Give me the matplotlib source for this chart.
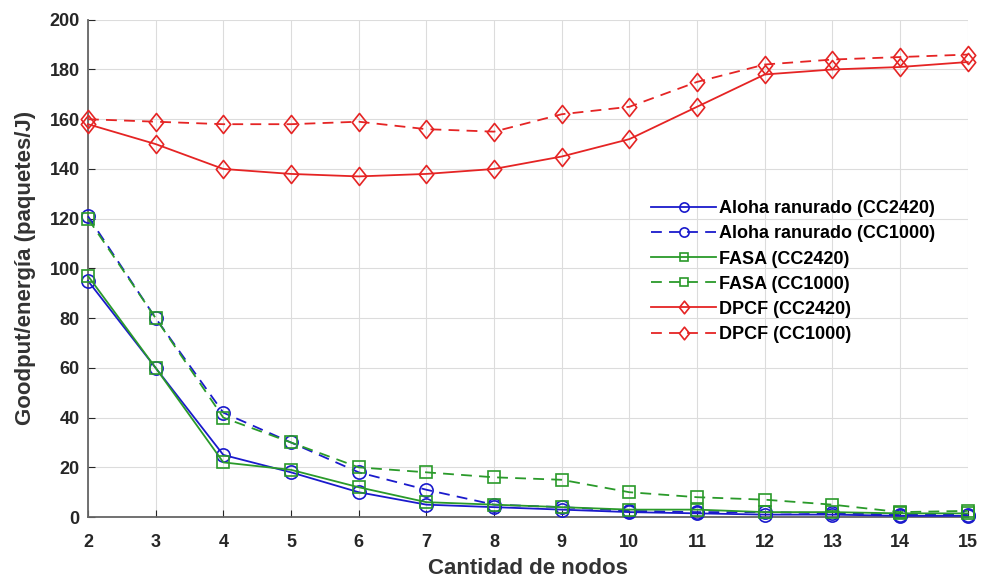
import matplotlib
matplotlib.use("Agg")
import matplotlib.pyplot as plt
from matplotlib.path import Path

nodos = [2, 3, 4, 5, 6, 7, 8, 9, 10, 11, 12, 13, 14, 15]

aloha_cc2420 = [95, 60, 25, 18, 10, 5, 4, 3, 2, 1.5, 1, 1, 0.5, 0.5]
aloha_cc1000 = [121, 80, 42, 30, 18, 11, 5, 4, 2.5, 2, 2, 1.5, 1, 1]
fasa_cc2420 = [97, 60, 22, 19, 12, 6, 5, 4, 3, 3, 2, 2, 1.5, 1.5]
fasa_cc1000 = [120, 80, 40, 30, 20, 18, 16, 15, 10, 8, 7, 5, 2, 2.5]
dpcf_cc2420 = [158, 150, 140, 138, 137, 138, 140, 145, 152, 165, 178, 180, 181, 183]
dpcf_cc1000 = [160, 159, 158, 158, 159, 156, 155, 162, 165, 175, 182, 184, 185, 186]

plt.rcParams["font.family"] = ["Liberation Sans", "DejaVu Sans"]
plt.rcParams["font.weight"] = "bold"

fig = plt.figure(figsize=(9.83, 5.81), dpi=100)
ax = fig.add_axes([0.0895, 0.110, 0.895, 0.856])

blue = "#1a1acc"
green = "#2a9a2a"
red = "#e52424"

# MATLAB-style diamond: a bit taller than wide
diamond = Path([(0, 1), (0.8, 0), (0, -1), (-0.8, 0), (0, 1)],
               [Path.MOVETO, Path.LINETO, Path.LINETO, Path.LINETO, Path.CLOSEPOLY])

series = [
    (aloha_cc2420, blue, "-", "o", "Aloha ranurado (CC2420)"),
    (aloha_cc1000, blue, "--", "o", "Aloha ranurado (CC1000)"),
    (fasa_cc2420, green, "-", "s", "FASA (CC2420)"),
    (fasa_cc1000, green, "--", "s", "FASA (CC1000)"),
    (dpcf_cc2420, red, "-", diamond, "DPCF (CC2420)"),
    (dpcf_cc1000, red, "--", diamond, "DPCF (CC1000)"),
]

sizes = {"o": 9.5, "s": 8}
for vals, col, ls, mk, lab in series:
    ms = sizes.get(mk, 13) if isinstance(mk, str) else 13
    ax.plot(nodos, vals, color=col, linestyle=ls, marker=mk, markersize=ms,
            markerfacecolor="none", markeredgewidth=1.2, linewidth=1.3,
            dashes=(6, 4) if ls == "--" else (None, None), label=lab,
            clip_on=False, zorder=3)

ax.set_xlim(2, 15)
ax.set_ylim(0, 200)
ax.set_xticks(nodos)
ax.set_yticks(range(0, 201, 20))
ax.grid(True, color="#dcdcdc", linewidth=0.8)
ax.set_axisbelow(True)

for side in ["top", "right"]:
    ax.spines[side].set_visible(False)
for side in ["left", "bottom"]:
    ax.spines[side].set_color("#666666")
    ax.spines[side].set_linewidth(1.3)

ax.tick_params(direction="in", length=5, labelsize=13, colors="#262626", pad=6)
ax.tick_params(axis="x", pad=12)
for t in ax.get_xticklabels() + ax.get_yticklabels():
    t.set_fontweight("bold")

ax.set_xlabel("Cantidad de nodos", fontsize=16, fontweight="bold", color="#333333",
              labelpad=5)
ax.set_ylabel("Goodput/energía (paquetes/J)", fontsize=16, fontweight="bold",
              color="#333333", labelpad=10)

leg = ax.legend(loc="upper left", bbox_to_anchor=(0.640, 0.637), frameon=False,
                fontsize=13, handlelength=3.6, labelspacing=0.45, handletextpad=0.15,
                borderpad=0, borderaxespad=0, markerscale=0.7)
for t in leg.get_texts():
    t.set_fontweight("bold")

fig.savefig("out.png", dpi=100)
